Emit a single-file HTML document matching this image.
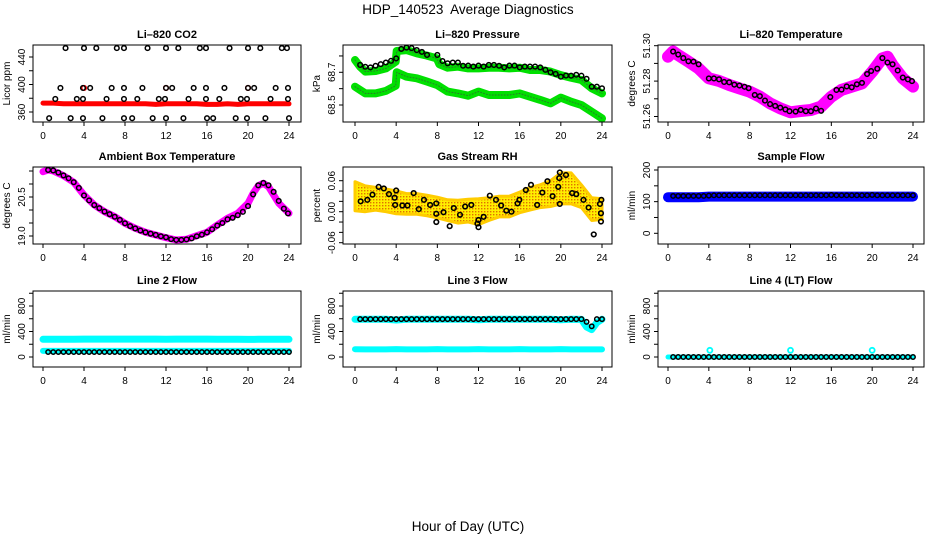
<!DOCTYPE html>
<html><head><meta charset="utf-8">
<style>
html,body{margin:0;padding:0;background:#fff;}
svg{display:block;font-family:"Liberation Sans",sans-serif;}
</style></head>
<body>
<svg id="chart" width="936" height="540" viewBox="0 0 936 540" xmlns="http://www.w3.org/2000/svg">
<defs>
<pattern id="rhpat" width="3" height="3" patternUnits="userSpaceOnUse">
<rect width="3" height="3" fill="#ffee00"/><rect x="1" y="1" width="1.4" height="1.4" fill="#e07000"/>
</pattern>
</defs>
<text x="468" y="14" text-anchor="middle" font-size="13.5">HDP_140523&#160; Average Diagnostics</text>
<text x="468" y="531" text-anchor="middle" font-size="13.5">Hour of Day (UTC)</text>
<g id="plots"></g>
</svg>
<script>
// ---- shared
const xTicks = [0,4,8,12,16,20,24];
const flowHours = [0.5,1,1.5,2,2.5,3,3.5,4,4.5,5,5.5,6,6.5,7,7.5,8,8.5,9,9.5,10,10.5,11,11.5,12,12.5,13,13.5,14,14.5,15,15.5,16,16.5,17,17.5,18,18.5,19,19.5,20,20.5,21,21.5,22,22.5,23,23.5,24];
const hourly = [0,1,2,3,4,5,6,7,8,9,10,11,12,13,14,15,16,17,18,19,20,21,22,23,24];

// ---- CO2
const co2TopH = [2.2,4.0,5.2,7.2,7.9,10.2,12.0,13.2,15.3,15.9,18.2,20.0,21.2,23.3,23.8];
const co2TopV = [453,453,453,453,453,453,453,453,453,453,453,453,453,453,453];
const co2MidH = [1.7,3.9,4.6,6.7,7.9,9.7,12.0,12.6,14.7,15.9,17.7,20.0,20.6,22.7,23.9];
const co2MidV = [395,395,395,395,395,395,395,395,395,395,395,395,395,395,395];
const co2LowH = [1.2,3.3,3.9,6.2,7.9,9.2,11.3,11.9,14.2,15.9,17.2,19.3,19.9,22.2,23.9];
const co2LowV = [379,379,379,379,379,379,379,379,379,379,379,379,379,379,379];
const co2BotH = [0.6,2.7,3.9,5.8,7.9,8.7,10.7,12.0,13.7,16.0,16.6,18.8,19.9,21.7,24.0];
const co2BotV = [351,351,351,351,351,351,351,351,351,351,351,351,351,351,351];
const co2Red = [373,373,372,372,372,372,372,372,372,372,372,371,372,372,372,372,371,371,372,371,372,372,372,372,372];
const co2RedPtsH = [4.0,12.0,20.0];
const co2RedPtsV = [395,395,395];

// ---- Pressure
const presUpH = [0,0.5,1,2,3,3.95,4.05,5,6,7,7.95,8.2,9,10,11,12,13,14,15,16,17,18,19,20,21,22,23,24];
const presUpV = [68.775,68.734,68.704,68.708,68.724,68.765,68.830,68.836,68.816,68.802,68.785,68.749,68.728,68.734,68.724,68.724,68.728,68.728,68.724,68.728,68.714,68.714,68.704,68.683,68.667,68.653,68.602,68.571];
const presLoH = [0,1,2,3,3.95,4.05,5,6,7,8,9,10,11,12,13,14,15,16,17,18,19,20,21,22,23,24];
const presLoV = [68.612,68.571,68.571,68.586,68.618,68.700,68.673,68.663,68.643,68.622,68.582,68.571,68.557,68.582,68.561,68.561,68.561,68.571,68.551,68.531,68.510,68.545,68.520,68.500,68.459,68.418];
const presBkH = [0.5,1,1.5,2,2.5,3,3.5,4,4.5,5,5.5,6,6.5,7,8,8.5,9,9.5,10,10.5,11,11.5,12,12.5,13,13.5,14,14.5,15,15.5,16,16.5,17,17.5,18,18.5,19,19.5,20,20.5,21,21.5,22,22.5,23,23.5,24];
const presBkV = [68.745,68.734,68.730,68.740,68.750,68.760,68.770,68.785,68.843,68.851,68.848,68.836,68.825,68.806,68.806,68.769,68.755,68.760,68.760,68.740,68.741,68.735,68.741,68.735,68.745,68.745,68.740,68.730,68.741,68.741,68.730,68.735,68.735,68.735,68.730,68.715,68.700,68.690,68.673,68.680,68.679,68.685,68.679,68.660,68.612,68.612,68.602];

// ---- Li-820 temperature
const ltH = [0,0.5,1,2,3,4,5,6,7,8,9,10,11,12,13,14,15,16,17,18,19,20,21,21.5,22,23,24];
const ltV = [51.2938,51.2967,51.2947,51.2910,51.2872,51.2816,51.2801,51.2778,51.2759,51.2740,51.2712,51.2674,51.2646,51.2624,51.2631,51.2637,51.2656,51.2712,51.2750,51.2769,51.2787,51.2853,51.2929,51.2938,51.2891,51.2816,51.2769];
const ltBkH = [0.5,1,1.5,2,2.5,3,4,4.5,5,5.5,6,6.5,7,7.5,7.9,8.5,9,9.5,10,10.5,11,11.5,11.9,12.5,13,13.5,14,14.5,15,15.9,16.5,17,17.5,18,18.5,19,19.5,19.9,20.5,21,21.5,22,22.5,23,23.5,23.9];
const ltBkV = [51.2967,51.2950,51.2930,51.2912,51.2910,51.2895,51.2815,51.2815,51.2810,51.2795,51.2793,51.2780,51.2775,51.2768,51.2760,51.2722,51.2715,51.2690,51.2670,51.2660,51.2650,51.2640,51.2630,51.2628,51.2637,51.2630,51.2630,51.2645,51.2632,51.2710,51.2750,51.2752,51.2770,51.2765,51.2782,51.2790,51.2840,51.2857,51.2870,51.2930,51.2905,51.2895,51.2860,51.2820,51.2810,51.2800];

// ---- Ambient box temperature
const abH = [0,0.5,1,2,3,4,5,6,7,8,9,10,11,12,13,14,15,16,17,18,19,20,20.5,21,21.5,22,23,24];
const abV = [21.474,21.538,21.5,21.320,21.064,20.577,20.192,19.936,19.744,19.487,19.295,19.141,19.038,18.936,18.846,18.872,19.013,19.141,19.423,19.679,19.872,20.256,20.641,20.936,21.026,20.897,20.256,19.872];
const abBkH = [0.5,1,1.5,2,2.5,3,3.5,4,4.5,5,5.5,6,6.5,7,7.5,8,8.5,9,9.5,10,10.5,11,11.5,12,12.5,13,13.5,14,14.5,15,15.5,16,16.5,17,17.5,18,18.5,19,19.5,20,20.5,21,21.5,22,22.5,23,23.5,23.9];
const abBkV = [21.54,21.52,21.44,21.33,21.22,21.07,20.85,20.56,20.37,20.19,20.07,19.94,19.84,19.74,19.62,19.49,19.38,19.29,19.21,19.14,19.09,19.04,18.99,18.95,18.88,18.85,18.85,18.87,18.91,18.99,19.05,19.14,19.26,19.40,19.50,19.64,19.70,19.80,19.93,20.15,20.60,20.95,21.04,20.95,20.70,20.35,20.05,19.87];

// ---- Gas stream RH
const rhH = hourly;
const rhMid = [0.030,0.025,0.025,0.022,0.018,0.015,0.015,0.012,0.008,0.003,0.000,0.002,0.000,0.005,0.010,0.010,0.018,0.025,0.030,0.035,0.045,0.045,0.030,0.005,0.005];
const rhSpread = [0.028,0.025,0.022,0.022,0.022,0.020,0.020,0.020,0.020,0.020,0.022,0.022,0.025,0.022,0.020,0.020,0.020,0.022,0.022,0.025,0.030,0.030,0.022,0.022,0.020];
const rhBkH = [0.55,1.2,1.7,2.3,2.8,3.3,3.85,4.0,3.9,4.6,5.1,5.7,6.2,6.7,7.3,7.9,7.9,7.9,8.6,9.2,9.6,10.2,10.7,11.3,11.9,12.0,12.0,12.5,13.1,13.7,14.2,14.7,15.2,15.8,15.97,16.6,17.1,17.7,18.2,18.7,19.2,19.75,19.85,19.9,19.9,20.5,21.1,21.5,22.2,22.7,23.2,23.8,23.9,23.9,23.94];
const rhBkV = [0.020,0.023,0.033,0.048,0.045,0.034,0.027,0.041,0.013,0.012,0.012,0.036,0.005,0.023,0.013,0.016,-0.004,-0.020,-0.001,-0.028,0.007,-0.006,0.010,0.013,-0.023,-0.016,-0.030,-0.010,0.031,0.023,0.012,0.002,0.000,0.016,0.023,0.042,0.052,0.013,0.037,0.059,0.030,0.048,0.065,0.076,0.015,0.071,0.036,0.034,0.023,0.008,-0.044,0.015,-0.003,-0.019,0.023];

// ---- Sample flow
const sfBlue = [114,114,114,114,116,116,116,116,116,116,116,116,116,116,116,116,116,116,116,116,116,116,116,116,116];
const sfBk = [118,118,118,118,118,118,118,119,120,120,120,120,120,120,120,120,120,120,120,120,120,120,120,120,120,120,120,120,120,120,120,121,120,120,120,120,120,120,120,121,120,120,120,120,120,120,120,120];

// ---- Line 2 flow
const l2CyanHi = [278,278,278,279,280,280,280,280,280,280,280,280,279,280,280,280,280,278,278,278,276,278,278,278,278];
const l2CyanLo = [95,95,95,95,95,95,95,95,95,95,95,95,95,95,95,95,95,95,95,95,95,95,95,95,95];
const l2Bk = [78,78,78,78,78,78,78,78,78,78,78,78,78,78,78,78,78,78,78,78,78,78,78,78,78,78,78,78,78,78,78,78,78,78,78,78,78,78,78,78,78,78,78,78,78,78,78,78];

// ---- Line 3 flow
const l3CyanHiH = [0,1,2,3,4,5,6,7,8,9,10,11,12,13,14,15,16,17,18,19,20,21,22,22.5,23,23.5,24];
const l3CyanHi = [592,592,592,592,580,592,592,592,592,592,592,592,585,592,592,592,592,592,592,592,585,592,590,470,430,540,592];
const l3CyanLo = [122,120,120,120,124,120,120,120,124,120,120,120,124,120,120,120,124,120,120,120,124,120,120,120,120];
const l3Bk = [594,594,594,594,594,594,594,594,594,594,594,594,594,594,594,594,594,594,594,594,594,594,594,594,594,594,594,594,594,594,594,594,594,594,594,594,594,594,594,594,594,594,594,594,551,482,594,594];

// ---- Line 4 flow
const l4Cyan = [0,0,0,0,0,0,0,0,0,0,0,0,0,0,0,0,0,0,0,0,0,0,0,0,0];
const l4SpikeH = [4.1,12.0,20.0];
const l4SpikeV = [105,105,105];
const l4Bk = [0,0,0,0,0,0,0,0,0,0,0,0,0,0,0,0,0,0,0,0,0,0,0,0,0,0,0,0,0,0,0,0,0,0,0,0,0,0,0,0,0,0,0,0,0,0,0,0];

// ---- layout (not data)
const cols = [{L:33,R:301,x0:43,x1:289},{L:343,R:612,x0:355,x1:602},{L:658,R:924,x0:668,x1:913}];
const rows = [{T:45,B:122},{T:167,B:244},{T:291,B:367}];
const NS = 'http://www.w3.org/2000/svg';
const root = document.getElementById('plots');
function mk(tag, attrs, parent){const e=document.createElementNS(NS,tag);for(const k in attrs)e.setAttribute(k,attrs[k]);(parent||root).appendChild(e);return e;}

function panel(c, r, title, ytitle, yv1, yp1, yv2, yp2, yTicks, yLabels, name){
  const col=cols[c], row=rows[r];
  const g=mk('g',{});
  
  
  const xs=h=>col.x0+(col.x1-col.x0)*h/24;
  const ys=v=>yp1+(v-yv1)*(yp2-yp1)/(yv2-yv1);
  const clipId='clip'+c+r;
  const cp=mk('clipPath',{id:clipId},g);
  mk('rect',{x:col.L,y:row.T,width:col.R-col.L,height:row.B-row.T},cp);
  const marks=mk('g',{'clip-path':'url(#'+clipId+')'},g);
  
  
  const box=mk('rect',{x:col.L,y:row.T,width:col.R-col.L,height:row.B-row.T,fill:'none',stroke:'#000','stroke-width':1},g);
  
  
  const t=mk('text',{x:(col.L+col.R)/2,y:row.T-7,'text-anchor':'middle','font-size':11,'font-weight':'bold'},g);
  t.textContent=title;
  
  
  const ax=mk('g',{},g);
  
  
  mk('line',{x1:xs(0),x2:xs(24),y1:row.B,y2:row.B,stroke:'#000'},ax);
  xTicks.forEach(h=>{
    mk('line',{x1:xs(h),x2:xs(h),y1:row.B,y2:row.B+4,stroke:'#000'},ax);
    const l=mk('text',{x:xs(h),y:row.B+17,'text-anchor':'middle','font-size':10},ax);
    l.textContent=h;
    
    
  });
  const ay=mk('g',{},g);
  
  
  yTicks.forEach(v=>{mk('line',{x1:col.L-4,x2:col.L,y1:ys(v),y2:ys(v),stroke:'#000'},ay);});
  yLabels.forEach(v=>{
    const tx=col.L-8, ty=ys(v);
    const l=mk('text',{x:tx,y:ty,'text-anchor':'middle','font-size':10,transform:'rotate(-90 '+tx+' '+ty+')'},ay);
    l.textContent=v;
    
    
  });
  const yt=col.L-23, ym=(row.T+row.B)/2;
  const tl=mk('text',{x:yt,y:ym,'text-anchor':'middle','font-size':10,transform:'rotate(-90 '+yt+' '+ym+')'},g);
  tl.textContent=ytitle;
  
  
  return {xs,ys,marks};
}
function band(p, H, V, color, w, name, dash){
  const pts=H.map((h,i)=>p.xs(h).toFixed(1)+','+p.ys(V[i]).toFixed(1)).join(' ');
  const e=mk('polyline',{points:pts,fill:'none',stroke:color,'stroke-width':w,'stroke-linejoin':'round','stroke-linecap':'round'},p.marks);
  if(dash) e.setAttribute('stroke-dasharray',dash);
  
  
}
function dots(p, H, V, color, r, sw, name){
  H.forEach((h,i)=>{
    const e=mk('circle',{cx:p.xs(h),cy:p.ys(V[i]),r:r,fill:'none',stroke:color,'stroke-width':sw},p.marks);
    
    
  });
}

// CO2
let p=panel(0,0,'Li\u2013820 CO2','Licor ppm',360,112,440,57,[360,380,400,420,440],[360,400,440],'co2-panel');
band(p,hourly,co2Red,'#ff0000',5,'co2-red-series');
dots(p,co2RedPtsH,co2RedPtsV,'#ff0000',2.3,1.5,'co2-red-point');
dots(p,co2TopH,co2TopV,'#000',2.3,1.5,'co2-point');
dots(p,co2MidH,co2MidV,'#000',2.3,1.5,'co2-point');
dots(p,co2LowH,co2LowV,'#000',2.3,1.5,'co2-point');
dots(p,co2BotH,co2BotV,'#000',2.3,1.5,'co2-point');

// Pressure
p=panel(1,0,'Li\u2013820 Pressure','kPa',68.7,72.3,68.5,105,[68.5,68.6,68.7,68.8],[68.5,68.7],'pressure-panel');
band(p,presUpH,presUpV,'#00e000',8,'pressure-upper-series');
band(p,presLoH,presLoV,'#00e000',8,'pressure-lower-series');
band(p,presUpH,presUpV,'#2a7a2a',1,'pressure-upper-texture','1,2');
band(p,presLoH,presLoV,'#2a7a2a',1,'pressure-lower-texture','1,2');
dots(p,presBkH,presBkV,'#000',2.3,1.5,'pressure-point');

// Li temp
p=panel(2,0,'Li\u2013820 Temperature','degrees C',51.30,45.7,51.26,116.5,[51.26,51.27,51.28,51.29,51.30],['51.26','51.28','51.30'],'li820-temp-panel');
band(p,ltH,ltV,'#ff00ff',12,'li820-temp-series');
dots(p,ltBkH,ltBkV,'#000',2.3,1.5,'li820-temp-point');

// Ambient
p=panel(0,1,'Ambient Box Temperature','degrees C',19.0,236,20.5,197,[19.0,19.5,20.0,20.5,21.0,21.5],['19.0','20.5'],'ambient-temp-panel');
band(p,abH,abV,'#ff00ff',7,'ambient-temp-series');
dots(p,abBkH,abBkV,'#000',2.3,1.5,'ambient-temp-point');

// RH
p=panel(1,1,'Gas Stream RH','percent',0.06,180.7,-0.06,242.7,[-0.06,-0.04,-0.02,0,0.02,0.04,0.06],['-0.06','0.00','0.06'],'rh-panel');
(function(){
  const up=rhH.map((h,i)=>p.xs(h).toFixed(1)+','+p.ys(rhMid[i]+rhSpread[i]).toFixed(1));
  const lo=rhH.map((h,i)=>p.xs(h).toFixed(1)+','+p.ys(rhMid[i]-rhSpread[i]).toFixed(1)).reverse();
  const e=mk('polygon',{points:up.concat(lo).join(' '),fill:'url(#rhpat)',stroke:'#ffcc00','stroke-width':3,'stroke-linejoin':'round'},p.marks);
  
  
})();
dots(p,rhBkH,rhBkV,'#000',2.3,1.6,'rh-point');

// Sample flow
p=panel(2,1,'Sample Flow','ml/min',0,233.3,200,170,[0,50,100,150,200],[0,100,200],'sample-flow-panel');
band(p,hourly,sfBlue,'#0000ff',10,'sample-flow-blue-series');
dots(p,flowHours,sfBk,'#000',2.2,1.5,'sample-flow-point');

// Line 2
p=panel(0,2,'Line 2 Flow','ml/min',0,357,800,306,[0,200,400,600,800,1000],[0,400,800],'line2-flow-panel');
band(p,hourly,l2CyanHi,'#00ffff',7,'line2-cyan-upper');
band(p,hourly,l2CyanLo,'#00ffff',6,'line2-cyan-lower');
dots(p,flowHours,l2Bk,'#000',2.2,1.5,'line2-point');

// Line 3
p=panel(1,2,'Line 3 Flow','ml/min',0,357,800,306,[0,200,400,600,800,1000],[0,400,800],'line3-flow-panel');
band(p,l3CyanHiH,l3CyanHi,'#00ffff',7,'line3-cyan-upper');
band(p,hourly,l3CyanLo,'#00ffff',6,'line3-cyan-lower');
dots(p,flowHours,l3Bk,'#000',2.2,1.5,'line3-point');

// Line 4
p=panel(2,2,'Line 4 (LT) Flow','ml/min',0,357,800,306,[0,200,400,600,800,1000],[0,400,800],'line4-flow-panel');
band(p,hourly,l4Cyan,'#00ffff',5,'line4-cyan-series');
dots(p,l4SpikeH,l4SpikeV,'#00ffff',2.5,1.8,'line4-cyan-spike');
dots(p,flowHours,l4Bk,'#000',2.2,1.5,'line4-point');
</script>
</body></html>
